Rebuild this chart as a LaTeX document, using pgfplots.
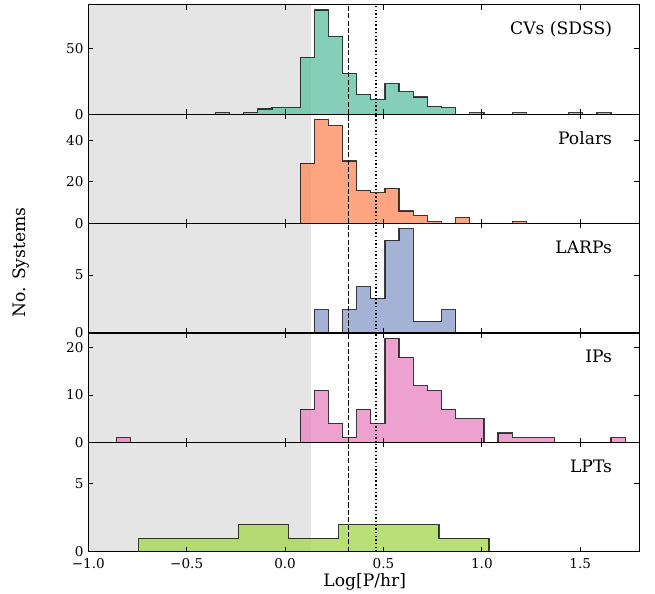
\documentclass[border=0pt]{standalone}
\usepackage{fontspec}
\setmainfont{DejaVu Serif}
\usepackage{pgfplots}
\pgfplotsset{compat=1.18}

\definecolor{cvc}{HTML}{66C2A5}
\definecolor{polc}{HTML}{FC8D62}
\definecolor{larpc}{HTML}{8DA0CB}
\definecolor{ipc}{HTML}{E78AC3}
\definecolor{lptc}{HTML}{A6D854}

\pgfplotsset{
  panel/.style={scale only axis, width=396.7bp, height=78.77bp, anchor=south west,
    xmin=-1, xmax=1.8, ymin=0, xtick={-1,-0.5,0,0.5,1,1.5}, xticklabels={},
    tick align=inside, major tick length=3.5bp, axis on top,
    axis line style={line width=0.8bp}, every tick/.style={black, line width=0.6bp},
    tick label style={font=\fontsize{9.8}{11}\selectfont},
    xticklabel style={yshift=-1.5bp},
    /pgf/number format/assume math mode=true},
  hist/.style={const plot, fill=#1, fill opacity=0.8, draw=black, draw opacity=0.75, line width=0.9bp}
}
\newcommand{\band}{\fill[black!10] (rel axis cs:0,0) rectangle ({axis cs:0.13,0} |- {rel axis cs:0,1});}
\newcommand{\gaplines}{%
  \draw[black, line width=0.9bp, dash pattern=on 3.7bp off 1.6bp] (axis cs:0.322,0) -- ({axis cs:0.322,0} |- {rel axis cs:0,1});
  \draw[black, line width=0.9bp, dash pattern=on 1bp off 1.65bp] (axis cs:0.462,0) -- ({axis cs:0.462,0} |- {rel axis cs:0,1});}
\newcommand{\tag}[1]{\node[anchor=base east, inner sep=0pt, font=\fontsize{12.4}{14}\selectfont] at (rel axis cs:0.951,0.726) {#1};}

\begin{document}
\begin{tikzpicture}
\path[use as bounding box] (0,0) rectangle (471.6bp,427bp);

% CVs (SDSS)
\begin{axis}[panel, at={(63.58bp,344.78bp)}, ymax=82.95, ytick={0,50}]
\band
\addplot[hist=cvc] coordinates {(-0.3538,1) (-0.2821,0) (-0.2103,1) (-0.1385,4) (-0.0667,5) (0.0051,5) (0.0769,43) (0.1487,79) (0.2205,59) (0.2923,31) (0.3641,15) (0.4359,11) (0.5077,23) (0.5795,17) (0.6513,13) (0.7231,6) (0.7949,5) (0.8667,0) (0.9385,1) (1.0103,0) (1.0821,0) (1.1538,1) (1.2256,0) (1.2974,0) (1.3692,0) (1.4410,1) (1.5128,0) (1.5846,1) (1.6564,1)} \closedcycle;
\gaplines
\tag{CVs (SDSS)}
\end{axis}

% Polars
\begin{axis}[panel, at={(63.58bp,266.01bp)}, ymax=52.5, ytick={0,20,40}]
\band
\addplot[hist=polc] coordinates {(0.0769,29) (0.1487,50) (0.2205,47) (0.2923,30) (0.3641,16) (0.4359,15) (0.5077,17) (0.5795,6) (0.6513,4) (0.7231,1) (0.7949,0) (0.8667,3) (0.9385,0) (1.0103,0) (1.0821,0) (1.1538,1) (1.2256,1)} \closedcycle;
\gaplines
\tag{Polars}
\end{axis}

% LARPs
\begin{axis}[panel, at={(63.58bp,187.24bp)}, ymax=9.45, ytick={0,5}]
\band
\addplot[hist=larpc] coordinates {(0.1487,2) (0.2205,0) (0.2923,2) (0.3641,4) (0.4359,3) (0.5077,8) (0.5795,9) (0.6513,1) (0.7231,1) (0.7949,2) (0.8667,2)} \closedcycle;
\gaplines
\tag{LARPs}
\end{axis}

% IPs
\begin{axis}[panel, at={(63.58bp,108.47bp)}, ymax=23.1, ytick={0,10,20}]
\band
\addplot[hist=ipc] coordinates {(-0.8564,1) (-0.7846,0) (0.0769,7) (0.1487,11) (0.2205,4) (0.2923,1) (0.3641,7) (0.4359,4) (0.5077,22) (0.5795,18) (0.6513,12) (0.7231,11) (0.7949,7) (0.8667,5) (0.9385,5) (1.0103,0) (1.0821,2) (1.1538,1) (1.2256,1) (1.2974,1) (1.3692,0) (1.6564,1) (1.7282,1)} \closedcycle;
\gaplines
\tag{IPs}
\end{axis}

% LPTs
\begin{axis}[panel, at={(63.58bp,29.7bp)}, ymax=8, ytick={0,5},
  xticklabels={−1.0,−0.5,0.0,0.5,1.0,1.5}]
\band
\addplot[hist=lptc] coordinates {(-0.746,1) (-0.491,1) (-0.237,2) (0.018,1) (0.272,2) (0.527,2) (0.782,1) (1.036,1)} \closedcycle;
\gaplines
\tag{LPTs}
\end{axis}

\node[font=\fontsize{12.4}{14}\selectfont] at (262.6bp,7.9bp) {Log[P/hr]};
\node[font=\fontsize{12.4}{14}\selectfont, rotate=90] at (14.8bp,238bp) {No. Systems};
\end{tikzpicture}
\end{document}
